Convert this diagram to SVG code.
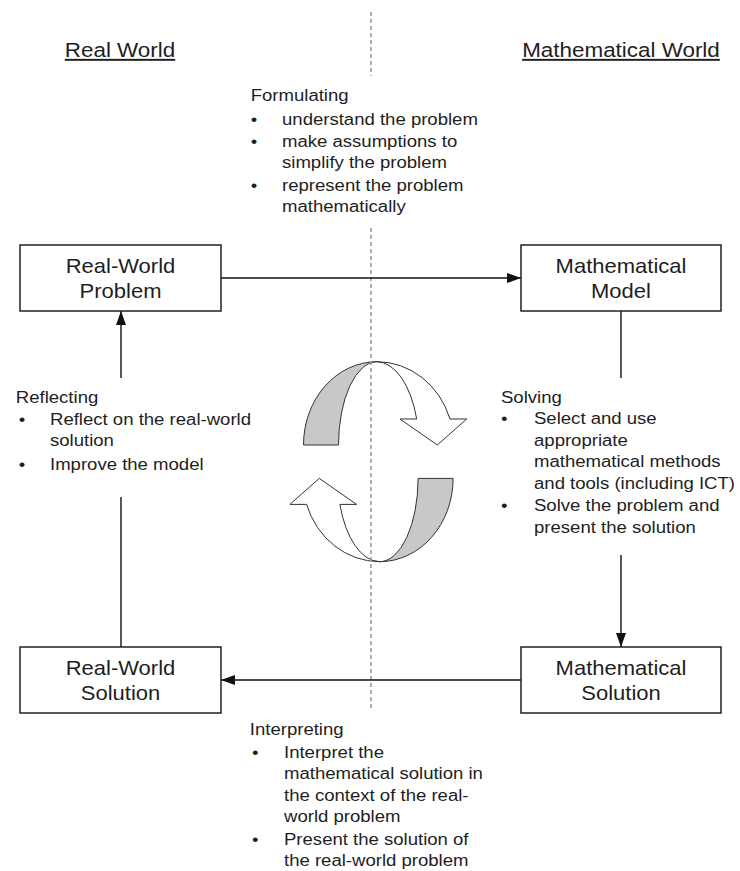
<svg xmlns="http://www.w3.org/2000/svg" width="740" height="871" viewBox="0 0 740 871">
<style>
  text { font-family: "Liberation Sans", Arial, sans-serif; fill: #1e1e1e; }
  .head { font-size: 19.5px; text-anchor: middle; text-decoration: underline; }
  .box { fill: #fff; stroke: #222; stroke-width: 1.5; }
  .btxt { font-size: 20px; text-anchor: middle; }
  .body { font-size: 16px; }
  .conn { stroke: #111; stroke-width: 1.4; fill: none; }
  .dash { stroke: #9a9a9a; stroke-width: 1.6; stroke-dasharray: 4 3; fill: none; }
  .grayband { fill: #c8c8c8; stroke: #333; stroke-width: 1; }
  .whitearr { fill: #fff; stroke: #333; stroke-width: 1; }
</style>
<defs>
  <marker id="ah" markerUnits="userSpaceOnUse" markerWidth="14" markerHeight="12" refX="14" refY="6" orient="auto">
    <path d="M0,1 L14,6 L0,11 Z" fill="#111"/>
  </marker>
</defs>
<rect width="740" height="871" fill="#fff"/>

<!-- headings -->
<g id="heading-real">
  <text class="head" transform="translate(120 57) scale(1.15 1)" x="0" y="0">Real World</text>
</g>
<g id="heading-math">
  <text class="head" transform="translate(621 57) scale(1.15 1)" x="0" y="0">Mathematical World</text>
</g>

<!-- cycle arrows -->
<g id="cycle-arrows">
  <g id="upper-arrow">
    <path class="grayband" d="M303.5,445 A73.5,83.3 0 0 1 377,361.7 A38.5,83.3 0 0 0 338.5,445 Z"/>
    <path class="whitearr" d="M377,361.7 A77,83.3 0 0 1 450,419 L466.7,419 L437.3,445 L400,419 L416.7,419 A42.3,83.3 0 0 0 377,361.7 Z"/>
  </g>
  <g id="lower-arrow" transform="rotate(180 378.3 461.7)">
    <path class="grayband" d="M303.5,445 A73.5,83.3 0 0 1 377,361.7 A38.5,83.3 0 0 0 338.5,445 Z"/>
    <path class="whitearr" d="M377,361.7 A77,83.3 0 0 1 450,419 L466.7,419 L437.3,445 L400,419 L416.7,419 A42.3,83.3 0 0 0 377,361.7 Z"/>
  </g>
</g>

<!-- divider -->
<g id="divider">
  <line class="dash" x1="371" y1="12" x2="371" y2="76"/>
  <line class="dash" x1="371" y1="228" x2="371" y2="708"/>
</g>

<!-- connectors -->
<g id="connectors">
  <line class="conn" x1="221" y1="278" x2="521" y2="278" marker-end="url(#ah)"/>
  <line class="conn" x1="621" y1="311" x2="621" y2="378"/>
  <line class="conn" x1="621" y1="555" x2="621" y2="647" marker-end="url(#ah)"/>
  <line class="conn" x1="521" y1="680" x2="221" y2="680" marker-end="url(#ah)"/>
  <line class="conn" x1="121" y1="647" x2="121" y2="497"/>
  <line class="conn" x1="121" y1="378" x2="121" y2="311" marker-end="url(#ah)"/>
</g>

<!-- nodes -->
<g id="node-real-problem">
  <rect class="box" x="20" y="245" width="201" height="66"/>
  <text class="btxt" transform="translate(120.5 0) scale(1.1 1)" x="0" y="273">Real-World</text>
  <text class="btxt" transform="translate(120.5 0) scale(1.1 1)" x="0" y="298">Problem</text>
</g>
<g id="node-math-model">
  <rect class="box" x="521" y="245" width="200" height="66"/>
  <text class="btxt" transform="translate(621 0) scale(1.1 1)" x="0" y="273">Mathematical</text>
  <text class="btxt" transform="translate(621 0) scale(1.1 1)" x="0" y="298">Model</text>
</g>
<g id="node-math-solution">
  <rect class="box" x="521" y="647" width="200" height="66"/>
  <text class="btxt" transform="translate(621 0) scale(1.1 1)" x="0" y="675">Mathematical</text>
  <text class="btxt" transform="translate(621 0) scale(1.1 1)" x="0" y="700">Solution</text>
</g>
<g id="node-real-solution">
  <rect class="box" x="20" y="647" width="201" height="66"/>
  <text class="btxt" transform="translate(120.5 0) scale(1.1 1)" x="0" y="675">Real-World</text>
  <text class="btxt" transform="translate(120.5 0) scale(1.1 1)" x="0" y="700">Solution</text>
</g>

<!-- process labels -->
<g id="label-formulating" class="body" transform="translate(282 0) scale(1.16 1)">
  <text class="body" x="-27" y="101">Formulating</text>
  <text class="body" x="-27" y="125">•</text>
  <text class="body" x="0" y="125">understand the problem</text>
  <text class="body" x="-27" y="147">•</text>
  <text class="body" x="0" y="147">make assumptions to</text>
  <text class="body" x="0" y="168">simplify the problem</text>
  <text class="body" x="-27" y="191">•</text>
  <text class="body" x="0" y="191">represent the problem</text>
  <text class="body" x="0" y="212">mathematically</text>
</g>

<g id="label-solving" class="body" transform="translate(534 0) scale(1.16 1)">
  <text class="body" x="-28.5" y="403">Solving</text>
  <text class="body" x="-28.5" y="424">•</text>
  <text class="body" x="0" y="424">Select and use</text>
  <text class="body" x="0" y="446">appropriate</text>
  <text class="body" x="0" y="467">mathematical methods</text>
  <text class="body" x="0" y="489">and tools (including ICT)</text>
  <text class="body" x="-28.5" y="511">•</text>
  <text class="body" x="0" y="511">Solve the problem and</text>
  <text class="body" x="0" y="533">present the solution</text>
</g>

<g id="label-reflecting" class="body" transform="translate(50 0) scale(1.16 1)">
  <text class="body" x="-29.5" y="403">Reflecting</text>
  <text class="body" x="-27" y="425">•</text>
  <text class="body" x="0" y="425">Reflect on the real-world</text>
  <text class="body" x="0" y="446">solution</text>
  <text class="body" x="-27" y="470">•</text>
  <text class="body" x="0" y="470">Improve the model</text>
</g>

<g id="label-interpreting" class="body" transform="translate(284 0) scale(1.16 1)">
  <text class="body" x="-29.5" y="735">Interpreting</text>
  <text class="body" x="-27.5" y="758">•</text>
  <text class="body" x="0" y="758">Interpret the</text>
  <text class="body" x="0" y="779.5">mathematical solution in</text>
  <text class="body" x="0" y="801">the context of the real-</text>
  <text class="body" x="0" y="822.5">world problem</text>
  <text class="body" x="-27.5" y="845">•</text>
  <text class="body" x="0" y="845">Present the solution of</text>
  <text class="body" x="0" y="866">the real-world problem</text>
</g>
</svg>
